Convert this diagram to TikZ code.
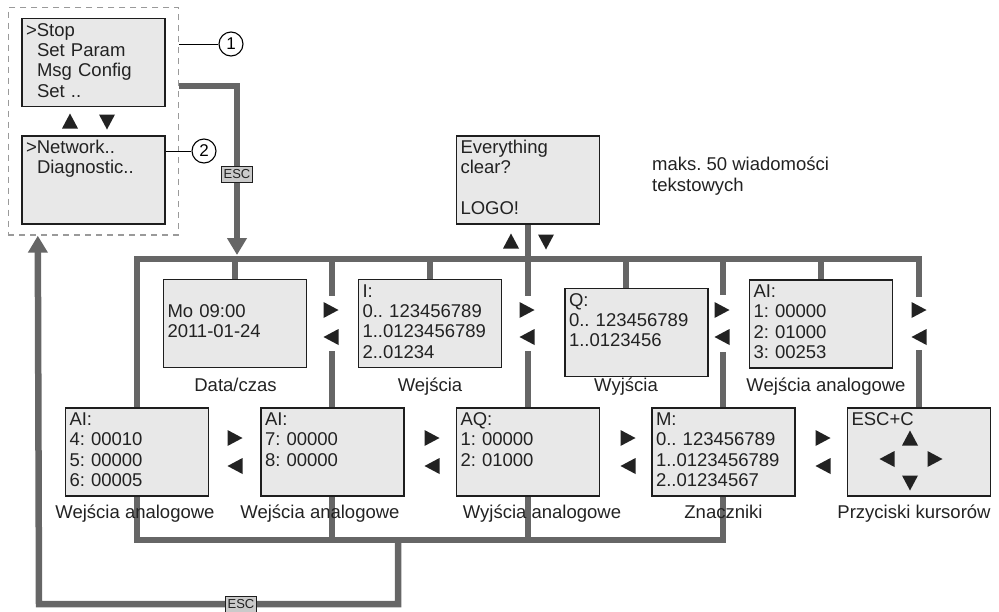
\documentclass[tikz,border=0pt]{standalone}
\usepackage{fontspec}
\setmainfont{Liberation Sans}
\usepackage{xcolor}
\usepackage{tikz}
\usetikzlibrary{
  arrows.meta,
  positioning,
  fit,
  calc,
  backgrounds
}
\frenchspacing
\definecolor{lcBus}{HTML}{666666}
\definecolor{lcFill}{HTML}{E8E8E8}
\definecolor{lcEdge}{HTML}{1E1E1E}
\definecolor{lcDash}{HTML}{9A9A9A}
\definecolor{lcTag}{HTML}{CACACA}
\definecolor{lcText}{HTML}{222222}
\newcommand{\lcd}[4]{\strut#1\\\strut#2\\\strut#3\\\strut#4}
\newcommand{\ind}{\hspace*{11pt}}
\tikzset{
  lcdbox/.style={
    draw=lcEdge, fill=lcFill, line width=1.1pt, text width=135pt,
    inner xsep=4pt, inner ysep=0pt, minimum height=88pt, align=left,
    font=\fontsize{18.5}{20.3}\selectfont, text=lcText
  },
  caption/.style={font=\fontsize{18.5}{20.3}\selectfont, text=lcText, inner sep=0pt,
    text height=13.5pt, text depth=4pt},
  note/.style={font=\fontsize{18.5}{20.3}\selectfont, text=lcText, inner sep=0pt,
    align=left, anchor=west},
  bus/.style={line width=6.5pt, lcBus},
  busarrow/.style={bus, -{Triangle[length=17pt, width=19pt]}},
  esctag/.style={draw=lcEdge, fill=lcTag, line width=0.8pt, text=lcText,
    font=\fontsize{13}{13}\selectfont, inner sep=0pt, minimum width=31pt, minimum height=16pt},
  callout/.style={circle, draw=black, fill=white, line width=1.1pt, minimum size=24pt,
    inner sep=0pt, font=\fontsize{17}{17}\selectfont},
  leader/.style={line width=1pt, black},
  menuzone/.style={draw=lcDash, dash pattern=on 6pt off 5pt, line width=1.3pt},
  tri/.style={fill=lcText},
  pics/keyR/.style={code={\fill[tri] (-7.5,-8) -- (7.5,0) -- (-7.5,8) -- cycle;}},
  pics/keyL/.style={code={\fill[tri] (7.5,-8) -- (-7.5,0) -- (7.5,8) -- cycle;}},
  pics/keyU/.style={code={\fill[tri] (-8,7.5) -- (0,-7.5) -- (8,7.5) -- cycle;}},
  pics/keyD/.style={code={\fill[tri] (-8,-7.5) -- (0,7.5) -- (8,-7.5) -- cycle;}}
}

\begin{document}
\begin{tikzpicture}[x=1pt, y=-1pt]
  \useasboundingbox (0,0) rectangle (999,611);

  % menu screens
  \node[lcdbox] (stop) at (93.5,62.5) {\lcd{>Stop}{\ind Set Param}{\ind Msg Config}{\ind Set ..}};
  \node[lcdbox] (net) at (93.5,180) {\lcd{>Network..}{\ind Diagnostic..}{}{}};
  \node[menuzone, fit=(stop)(net), inner xsep=13pt, inner ysep=10.5pt] (menu) {};
  \node[lcdbox] (every) at (528,180) {\lcd{Everything}{clear?}{}{LOGO!}};

  % top row
  \node[lcdbox] (dt) at (235,323.5) {\lcd{}{Mo 09:00}{2011-01-24}{}};
  \node[lcdbox] (inp) at (430,323.5) {\lcd{I:}{0.. 123456789}{1..0123456789}{2..01234}};
  \node[lcdbox] (outp) at (636.5,332.5) {\lcd{Q:}{0.. 123456789}{1..0123456}{}};
  \node[lcdbox] (aitop) at (821,324) {\lcd{AI:}{1: 00000}{2: 01000}{3: 00253}};

  % bottom row
  \node[lcdbox] (ai4) at (137,452) {\lcd{AI:}{4: 00010}{5: 00000}{6: 00005}};
  \node[lcdbox] (ai7) at (332.5,452) {\lcd{AI:}{7: 00000}{8: 00000}{}};
  \node[lcdbox] (aq) at (528,452) {\lcd{AQ:}{1: 00000}{2: 01000}{}};
  \node[lcdbox] (mk) at (723.5,452) {\lcd{M:}{0.. 123456789}{1..0123456789}{2..01234567}};
  \node[lcdbox] (keys) at (919,452) {\lcd{ESC+C}{}{}{}};

  \foreach \x/\y/\name/\txt in {235.5/387/dt/{Data/czas}, 430/387/inp/{Wejścia},
      626/387/outp/{Wyjścia}, 826/387/aitop/{Wejścia analogowe},
      135/514/ai4/{Wejścia analogowe}, 320/514/ai7/{Wejścia analogowe},
      542/514/aq/{Wyjścia analogowe}, 723.5/514/mk/{Znaczniki},
      914/514/keys/{Przyciski kursorów}}{
    \node[caption] (cap-\name) at (\x,\y) {\txt};
  }
  \node[note] (maxnote) at (652,176) {maks. 50 wiadomości\\tekstowych};

  % connection bars
  \begin{scope}[on background layer]
    \coordinate (j-out) at (626,259);
    \draw[bus] (919,297) -- (919,259) -- (137,259) -- (137,540) -- (723,540) -- (723,352);
    \draw[bus] (723,259) -- (723,295);
    \foreach \x in {332,528}{
      \draw[bus] (\x,259) -- (\x,296);
      \draw[bus] (\x,351) -- (\x,540);
    }
    \draw[bus] (919,350) -- (keys.north);
    \draw[bus] (every.south) -- (528,259);
    \draw[bus] (235,259) -- (dt.north);
    \draw[bus] (430,259) -- (inp.north);
    \draw[bus] (j-out) -- (j-out |- outp.north);
    \draw[bus] (821,259) -- (aitop.north);
    \draw[busarrow] (menu.east |- 0,86) -| (237,255);
    \draw[busarrow] (398,540) |- (39,604) -- ([xshift=30pt]menu.south west);
  \end{scope}
  \node[esctag] (esc-in) at (237,174) {ESC};
  \node[esctag] (esc-out) at (241,604) {ESC};

  % callouts
  \node[callout] (c1) at (231,44) {1};
  \node[callout] (c2) at (204,151) {2};
  \draw[leader] (menu.east |- c1) -- (c1);
  \draw[leader] (net.east |- c2) -- (c2);

  % cursor keys
  \foreach \x in {331,527,722,919}{
    \pic at (\x,310) {keyR};
    \pic at (\x,337) {keyL};
  }
  \foreach \x in {235,432,628,823}{
    \pic at (\x,438) {keyR};
    \pic at (\x,466) {keyL};
  }
  \pic at (70,121) {keyU};
  \pic at (107,122) {keyD};
  \pic at (511,241) {keyU};
  \pic at (546,242) {keyD};
  \pic at (910,438) {keyU};
  \pic at (887,459) {keyL};
  \pic at (935,459) {keyR};
  \pic at (910,483) {keyD};
\end{tikzpicture}
\end{document}
